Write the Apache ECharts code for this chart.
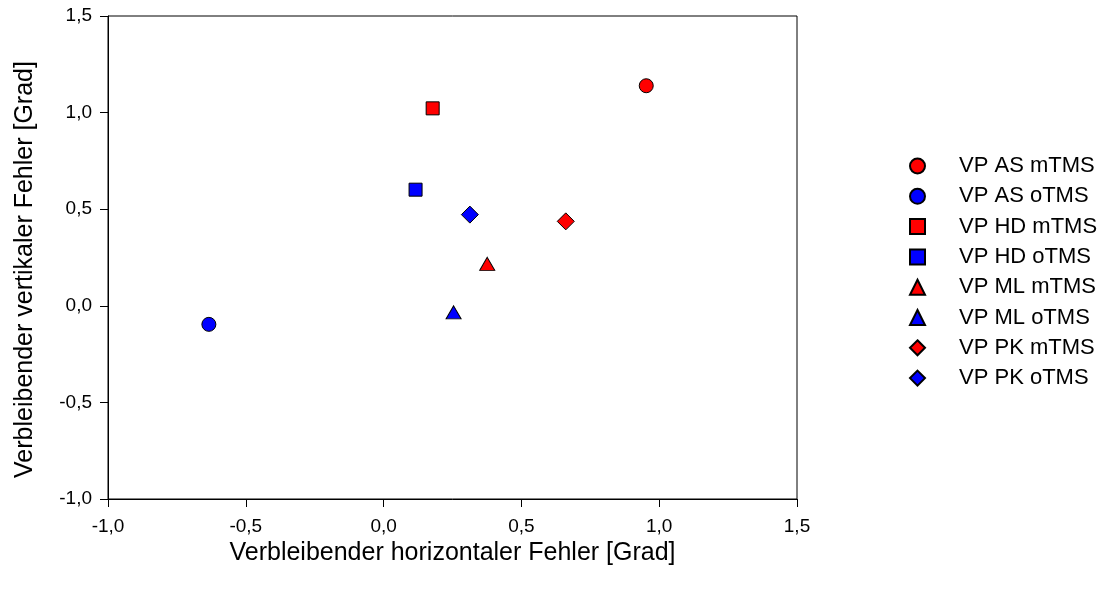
<!DOCTYPE html>
<html>
<head>
<meta charset="utf-8">
<script src="https://cdn.jsdelivr.net/npm/echarts@6/dist/echarts.min.js"></script>
<style>
  html, body { margin: 0; padding: 0; background: #fff; }
  #chart { width: 1101px; height: 592px; }
</style>
</head>
<body>
<div id="chart"></div>
<script>
// Versuchspersonen, jeweils mit / ohne TMS
var seriesNames = ['VP AS mTMS', 'VP AS oTMS', 'VP HD mTMS', 'VP HD oTMS',
                   'VP ML mTMS', 'VP ML oTMS', 'VP PK mTMS', 'VP PK oTMS'];
var xValues = [0.953, -0.634, 0.178, 0.116, 0.376, 0.254, 0.661, 0.313];
var yValues = [1.139, -0.096, 1.022, 0.601, 0.217, -0.034, 0.437, 0.472];
var xTicks = [-1.0, -0.5, 0.0, 0.5, 1.0, 1.5];
var yTicks = [-1.0, -0.5, 0.0, 0.5, 1.0, 1.5];

// Marker je VP, Farbe je Bedingung
var symbols = { AS: 'circle', HD: 'rect', ML: 'triangle', PK: 'diamond' };
var sizes = { AS: 14, HD: 13, ML: [15, 13], PK: 17 };
var colors = { mTMS: '#ff0000', oTMS: '#0000ff' };

var font = 'Liberation Sans, Arial, sans-serif';
var fmt = function (v) { return v.toFixed(1).replace('.', ','); };

var series = seriesNames.map(function (name, i) {
    var parts = name.split(' ');   // ['VP', 'AS', 'mTMS']
    return {
        name: name,
        type: 'scatter',
        symbol: symbols[parts[1]],
        symbolSize: sizes[parts[1]],
        itemStyle: {
            color: colors[parts[2]],
            opacity: 1,
            borderColor: '#000',
            borderWidth: 1
        },
        data: [[xValues[i], yValues[i]]],
        animation: false
    };
});

var chart = echarts.init(document.getElementById('chart'));
chart.setOption({
    backgroundColor: '#fff',
    grid: {
        left: 108, top: 16, right: 304, bottom: 93,
        show: true, borderColor: '#000', borderWidth: 1
    },
    xAxis: {
        type: 'value',
        min: xTicks[0], max: xTicks[xTicks.length - 1], interval: 0.5,
        name: 'Verbleibender horizontaler Fehler [Grad]',
        nameLocation: 'middle', nameGap: 42,
        nameTextStyle: { fontFamily: font, fontSize: 25, color: '#000' },
        axisLine: { onZero: false, lineStyle: { color: '#000', width: 1 } },
        axisTick: { length: 8, lineStyle: { color: '#000' } },
        axisLabel: { formatter: fmt, fontFamily: font, fontSize: 19, color: '#000', margin: 18 },
        splitLine: { show: false }
    },
    yAxis: {
        type: 'value',
        min: yTicks[0], max: yTicks[yTicks.length - 1], interval: 0.5,
        name: 'Verbleibender vertikaler Fehler [Grad]',
        nameLocation: 'middle', nameGap: 70,
        // etwas nach unten versetzt wie im Original
        nameTextStyle: { fontFamily: font, fontSize: 25, color: '#000', padding: [0, 24, 0, 0] },
        axisLine: { onZero: false, lineStyle: { color: '#000', width: 1 } },
        axisTick: { length: 8, lineStyle: { color: '#000' } },
        axisLabel: { formatter: fmt, fontFamily: font, fontSize: 19, color: '#000', margin: 16 },
        splitLine: { show: false }
    },
    legend: {
        orient: 'vertical',
        left: 904, top: 150,
        itemWidth: 15, itemHeight: 15,
        itemGap: 8.3,
        symbolKeepAspect: true,
        textStyle: { fontFamily: font, fontSize: 22, lineHeight: 22, color: '#000', padding: [0, 0, 0, 29] },
        data: seriesNames
    },
    series: series
});
</script>
</body>
</html>
